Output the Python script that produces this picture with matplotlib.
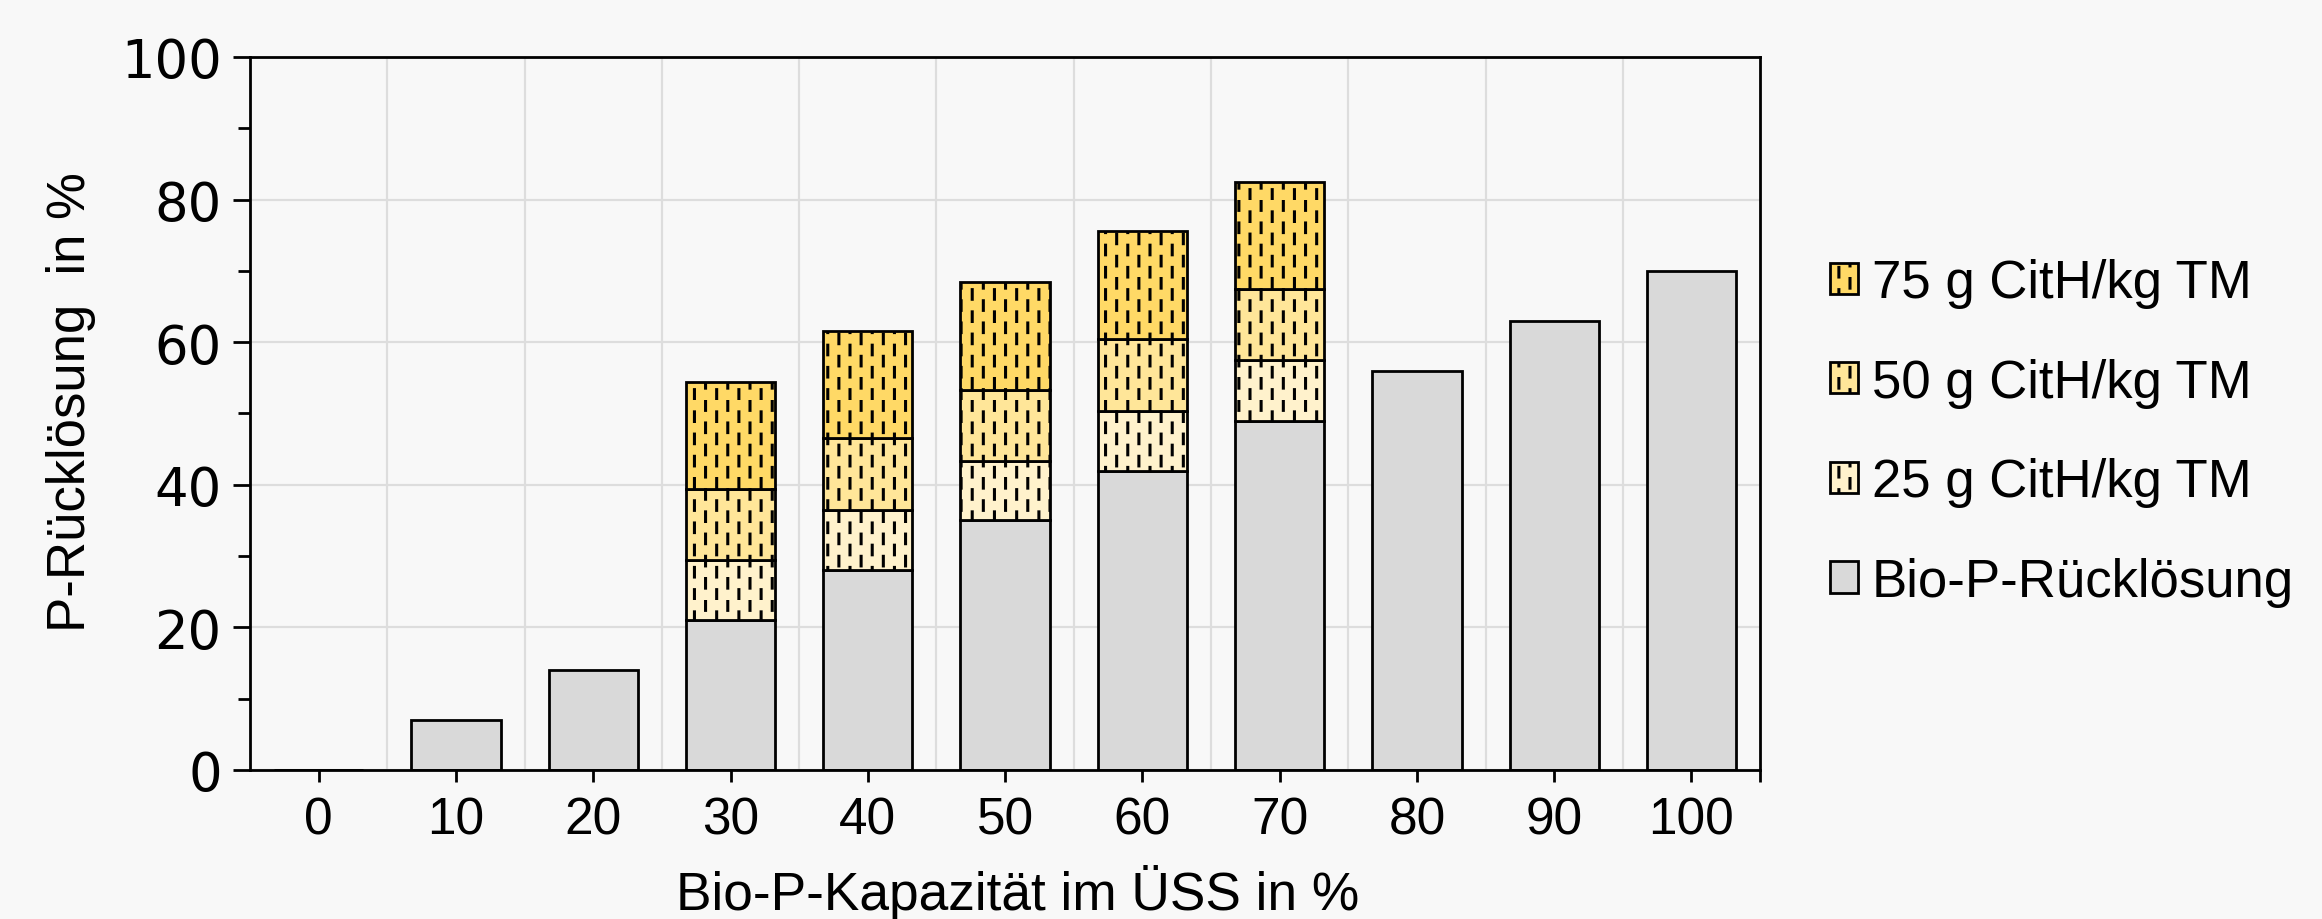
import numpy as np
import matplotlib
matplotlib.use("Agg")
import matplotlib.pyplot as plt
import matplotlib.hatch as mhatch
from matplotlib.path import Path
from matplotlib.ticker import MultipleLocator

# --- Daten ---
kapazitaet = ["0", "10", "20", "30", "40", "50", "60", "70", "80", "90", "100"]
bio_p = [0, 7, 14, 21, 28, 35, 42, 49, 56, 63, 70]
cith_25 = [None, None, None, 8.4, 8.4, 8.3, 8.4, 8.5, None, None, None]
cith_50 = [None, None, None, 10.0, 10.2, 10.0, 10.0, 10.0, None, None, None]
cith_75 = [None, None, None, 15.0, 15.0, 15.2, 15.2, 15.0, None, None, None]

labels = ["Bio-P-Rücklösung", "25 g CitH/kg TM", "50 g CitH/kg TM", "75 g CitH/kg TM"]
colors = ["#D9D9D9", "#FFF2CC", "#FFE699", "#FFD966"]


# --- Schraffur: versetzte senkrechte Striche statt durchgehender Linien ---
class DashedVerticalHatch(mhatch.HatchPatternBase):
    def __init__(self, hatch, density):
        n = hatch.count('|')
        self.num_cols = 18 * n
        self.num_rows = 9
        self.num_vertices = self.num_cols * self.num_rows * 2

    def set_vertices_and_codes(self, vertices, codes):
        half = 0.024
        k = 0
        for i in range(self.num_cols):
            x = (i + 0.5) / self.num_cols
            off = 0.25 + 0.5 * (i % 2)
            for j in range(self.num_rows):
                yc = (j + off) / self.num_rows
                vertices[k] = (x, yc - half)
                vertices[k + 1] = (x, yc + half)
                codes[k] = Path.MOVETO
                codes[k + 1] = Path.LINETO
                k += 2


mhatch._hatch_types[:] = [DashedVerticalHatch if t is mhatch.VerticalHatch else t
                          for t in mhatch._hatch_types]

plt.rcParams.update({
    "font.family": ["Liberation Sans", "DejaVu Sans"],
    "font.size": 19.2,
    "hatch.linewidth": 1.1,
    "axes.linewidth": 1.0,
})

bg = "#F8F8F8"
fig = plt.figure(figsize=(11.61, 4.6), dpi=200, facecolor=bg)
ax = fig.add_axes([0.1077, 0.162, 0.758 - 0.1077, 0.937 - 0.162])
ax.set_facecolor(bg)

x = np.arange(len(kapazitaet))
w = 0.65

handles = []
h = ax.bar(x, bio_p, width=w, color=colors[0], edgecolor="black", linewidth=1.0, zorder=2)
handles.append(h)

mask = np.array([v is not None for v in cith_25])
xs = x[mask]
bottom = np.array(bio_p, dtype=float)[mask]
for vals, col in zip([cith_25, cith_50, cith_75], colors[1:]):
    v = np.array([a for a in vals if a is not None], dtype=float)
    h = ax.bar(xs, v, bottom=bottom, width=w, color=col, edgecolor="black",
               linewidth=1.0, hatch="|", zorder=2)
    handles.append(h)
    bottom = bottom + v

ax.set_xlim(-0.5, len(kapazitaet) - 0.5)
ax.set_ylim(0, 100)

# Achsen
ax.set_xticks(list(x) + [len(kapazitaet) - 0.5], kapazitaet + [""])
ax.set_xticks(x[:-1] + 0.5, minor=True)
ax.tick_params(axis="x", which="major", direction="out", length=4.3, width=1.0,
               pad=5, labelsize=18.5)
ax.tick_params(axis="x", which="minor", length=0)
ax.yaxis.set_major_locator(MultipleLocator(20))
ax.yaxis.set_minor_locator(MultipleLocator(10))
ax.tick_params(axis="y", which="major", direction="out", length=6.2, width=1.0, pad=4)
ax.tick_params(axis="y", which="minor", direction="out", length=4.3, width=1.0)
for t in ax.get_yticklabels():
    t.set_fontfamily("DejaVu Sans")
    t.set_fontsize(19)

ax.grid(axis="y", which="major", color="#DDDDDD", linewidth=0.8)
ax.grid(axis="x", which="minor", color="#DDDDDD", linewidth=0.8)
ax.set_axisbelow(True)

ax.set_xlabel("Bio-P-Kapazität im ÜSS in %", labelpad=7)
ax.xaxis.label.set_x(0.508)
ax.set_ylabel("P-Rücklösung  in %", labelpad=9, fontsize=19)
ax.yaxis.label.set_y(0.517)

leg = fig.legend(handles[::-1], labels[::-1], loc="center left",
                 bbox_to_anchor=(0.788, 0.529), frameon=False, fontsize=19,
                 handlelength=0.53, handleheight=0.53, handletextpad=0.27,
                 labelspacing=0.94, borderpad=0, borderaxespad=0)

plt.savefig("out.png", dpi=200, facecolor=bg)
